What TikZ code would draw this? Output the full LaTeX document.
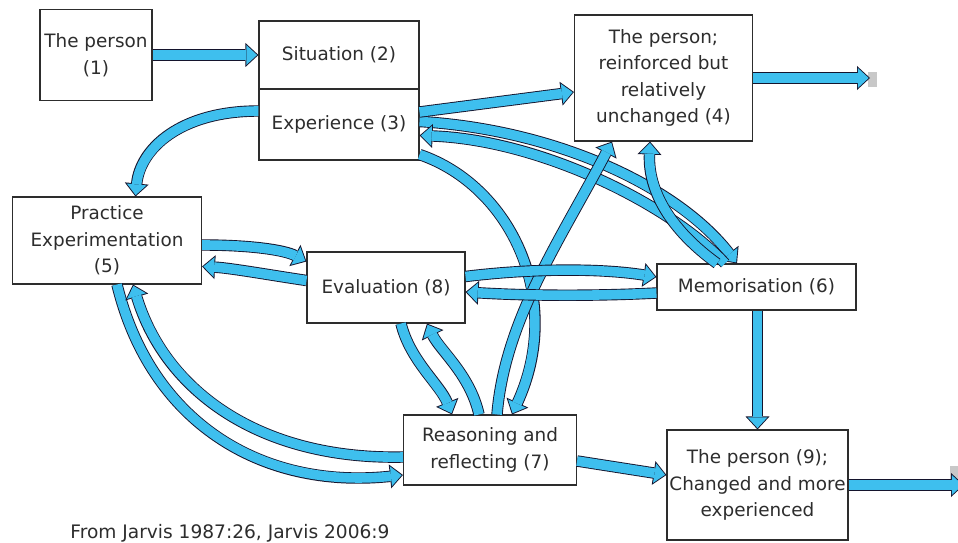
\documentclass[tikz,border=0pt]{standalone}
\usepackage{fontspec}
\setmainfont{DejaVu Sans}
\usetikzlibrary{arrows.meta,calc}
\definecolor{bluef}{RGB}{62,191,238}
\definecolor{edgec}{RGB}{20,20,45}
\definecolor{boxc}{RGB}{45,45,45}
\definecolor{textc}{RGB}{45,45,45}
\definecolor{greyc}{RGB}{200,200,200}
\tikzset{
  box/.style={draw=boxc, line width=1.1pt, fill=white, text=textc, inner sep=0pt, align=center,
    font=\fontsize{18.4}{26.5}\selectfont},
  outerarrow/.style={line width=11.4pt, draw=edgec, -{Triangle[length=13pt,width=24pt,line width=0pt]}},
  innerarrow/.style={line width=9.6pt, draw=bluef, shorten >=1.35pt, -{Triangle[length=10.7pt,width=19.8pt,line width=0pt]}},
}
\newcommand\blkarrow[1]{\draw[outerarrow] #1; \draw[innerarrow] #1;}
\begin{document}
\begin{tikzpicture}[x=1pt,y=-1pt]
\useasboundingbox (0,0) rectangle (958,543);
\clip (0,0) rectangle (958,543);
\fill[white] (0,0) rectangle (958,543);

% boxes
\node[box, minimum width=112pt, minimum height=91pt] (p1) at (96,55) {The person\\(1)};
\node[box, minimum width=160pt, minimum height=68pt] (sit) at (339,55) {Situation (2)};
\node[box, minimum width=160pt, minimum height=71pt] (exp) at (339,124.5) {Experience (3)};
\node[box, minimum width=178pt, minimum height=126pt] (p4) at (663.5,78) {The person;\\reinforced but\\relatively\\unchanged (4)};
\node[box, minimum width=189pt, minimum height=87pt] (prac) at (107,240.5) {Practice\\Experimentation\\(5)};
\node[box, minimum width=158pt, minimum height=71pt] (eval) at (386,287.5) {Evaluation (8)};
\node[box, minimum width=199pt, minimum height=46pt] (memo) at (756.5,287) {Memorisation (6)};
\node[box, minimum width=173pt, minimum height=70pt] (reas) at (490,450) {Reasoning and\\reflecting (7)};
\node[box, minimum width=181pt, minimum height=110pt] (p9) at (757.5,485) {The person (9);\\Changed and more\\experienced};
\node[text=textc, font=\fontsize{18.6}{22}\selectfont, inner sep=0pt] (cap) at (230,533) {From Jarvis 1987:26, Jarvis 2006:9};

% grey end markers
\node[fill=greyc, inner sep=0pt, minimum width=9pt, minimum height=15pt] (g4) at (872.5,79.5) {};
\node[fill=greyc, inner sep=0pt, minimum width=10pt, minimum height=24pt] (g9) at (955,478) {};
\coordinate (out4) at (870,78);
\coordinate (out9) at (964,485);

% long curves between 5 and 7
\blkarrow{($(prac.south)+(10,0)$) .. controls +(33,136) and +(-143.5,15) .. ($(reas.west)+(0,25)$)}
\blkarrow{($(reas.west)+(0,7)$) .. controls +(-143.5,3) and +(32,106) .. ($(prac.south)+(26,0)$)}

% 3 -> 5
\blkarrow{($(exp.west)+(0,-13.5)$) .. controls +(-79,0) and +(4.5,-47) .. ($(prac.north)+(28.5,0)$)}

% 3 <-> 6
\blkarrow{($(exp.east)+(0,-3)$) .. controls +(141,8.5) and +(-57,-74) .. ($(memo.north)+(-19.5,0)$)}
\blkarrow{($(memo.north)+(-31.5,0)$) .. controls +(-55,-59) and +(121,4.5) .. ($(exp.east)+(0,11)$)}

% 6 -> 4
\blkarrow{($(memo.north)+(-39.5,0)$) .. controls +(-47,-34) and +(-2,49) .. ($(p4.south)+(-13.5,0)$)}

% 3 -> 7 and 7 -> 4
\blkarrow{($(exp.south east)+(0,-6)$) .. controls +(91,31) and +(53,-115) .. ($(reas.north)+(22,0)$)}
\blkarrow{($(reas.north)+(7,0)$) .. controls +(8,-95) and +(-52,99) .. ($(p4.south)+(-51.5,0)$)}

% 8 <-> 7
\blkarrow{($(eval.south)+(15,0)$) .. controls +(9,37) and +(-12,-30) .. ($(reas.north)+(-38,0)$)}
\blkarrow{($(reas.north)+(-11,0)$) .. controls +(-9,-40) and +(13,27) .. ($(eval.south)+(41,0)$)}

% 5 <-> 8
\blkarrow{($(prac.east)+(0,4.5)$) .. controls +(48.5,0) and +(-22,-11.5) .. ($(eval.west)+(0,-26)$)}
\blkarrow{($(eval.west)+(0,-7)$) .. controls +(-37,-5.5) and +(28.5,1.5) .. ($(prac.east)+(0,26)$)}

% 8 <-> 6
\blkarrow{($(eval.east)+(0,-11)$) .. controls +(65,-8) and +(-57,-9) .. ($(memo.west)+(0,-10)$)}
\blkarrow{($(memo.west)+(0,6)$) .. controls +(-57,3) and +(65,4) .. ($(eval.east)+(0,4.5)$)}

% 3 -> 4
\blkarrow{($(exp.east)+(0,-12.5)$) -- ($(p4.west)+(0,14)$)}

% straight ones
\blkarrow{(p1.east) -- (sit.west)}
\blkarrow{(p4.east) -- (out4)}
\blkarrow{($(memo.south)+(1,0)$) -- (p9.north)}
\blkarrow{($(reas.east)+(0,11)$) -- ($(p9.west)+(0,-10)$)}
\blkarrow{(p9.east) -- (out9)}
\end{tikzpicture}
\end{document}
